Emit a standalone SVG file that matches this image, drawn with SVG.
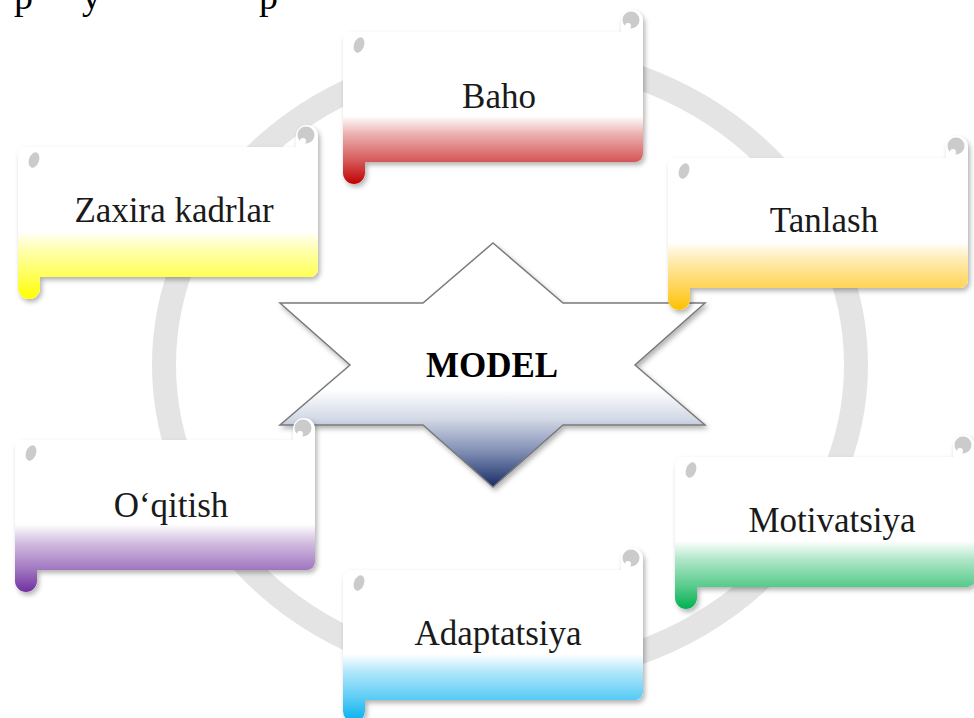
<svg xmlns="http://www.w3.org/2000/svg" width="974" height="718" viewBox="0 0 974 718">
  <style>
    .lbl { font-family: "Liberation Serif", "Times New Roman", serif; font-size: 35px; fill: #1a1a1a; text-anchor: middle; }
    .title { font-family: "Liberation Serif", "Times New Roman", serif; font-size: 35px; font-weight: bold; fill: #000; text-anchor: middle; }
    .top { font-family: "Liberation Serif", "Times New Roman", serif; font-size: 38px; fill: #000; }
    .paper { fill: #ffffff; filter: url(#shadow); }
    .curl { fill: #cbcbcb; }
    .ring { fill: none; stroke: #e4e4e4; stroke-width: 24; }
  </style>
  <defs>
    <filter id="shadow" x="-10%" y="-10%" width="125%" height="130%">
      <feDropShadow dx="2" dy="3" stdDeviation="2.5" flood-color="#000" flood-opacity="0.3"/>
    </filter>
    <!-- horizontal scroll: body 300x130, roll above top-right, tab below bottom-left -->
    <path id="scroll" d="M0,8 A8,8 0 0 1 8,0 L278,0 L278,-11 A11,11 0 0 1 300,-11 L300,122 A8,8 0 0 1 292,130 L22,130 L22,141 A11,11 0 0 1 0,141 Z"/>
    <g id="ornament">
      <circle class="curl" cx="288" cy="-12" r="8.5"/>
      <circle cx="285" cy="-6" r="3" fill="#fff"/>
      <ellipse class="curl" cx="16" cy="13" rx="5" ry="8" transform="rotate(20 16 13)"/>
    </g>
    <linearGradient id="gRed" x1="0" y1="0" x2="0" y2="1">
      <stop offset="0" stop-color="#c00000" stop-opacity="0"/>
      <stop offset="0.61" stop-color="#c00000" stop-opacity="0"/>
      <stop offset="0.71" stop-color="#c00000" stop-opacity="0.3"/>
      <stop offset="0.87" stop-color="#c00000" stop-opacity="0.66"/>
      <stop offset="1" stop-color="#c00000" stop-opacity="1"/>
    </linearGradient>
    <linearGradient id="gYellow" x1="0" y1="0" x2="0" y2="1">
      <stop offset="0" stop-color="#ffff00" stop-opacity="0"/>
      <stop offset="0.61" stop-color="#ffff00" stop-opacity="0"/>
      <stop offset="0.71" stop-color="#ffff00" stop-opacity="0.3"/>
      <stop offset="0.87" stop-color="#ffff00" stop-opacity="0.66"/>
      <stop offset="1" stop-color="#ffff00" stop-opacity="1"/>
    </linearGradient>
    <linearGradient id="gOrange" x1="0" y1="0" x2="0" y2="1">
      <stop offset="0" stop-color="#ffc000" stop-opacity="0"/>
      <stop offset="0.61" stop-color="#ffc000" stop-opacity="0"/>
      <stop offset="0.71" stop-color="#ffc000" stop-opacity="0.3"/>
      <stop offset="0.87" stop-color="#ffc000" stop-opacity="0.66"/>
      <stop offset="1" stop-color="#ffc000" stop-opacity="1"/>
    </linearGradient>
    <linearGradient id="gGreen" x1="0" y1="0" x2="0" y2="1">
      <stop offset="0" stop-color="#00b050" stop-opacity="0"/>
      <stop offset="0.61" stop-color="#00b050" stop-opacity="0"/>
      <stop offset="0.71" stop-color="#00b050" stop-opacity="0.3"/>
      <stop offset="0.87" stop-color="#00b050" stop-opacity="0.66"/>
      <stop offset="1" stop-color="#00b050" stop-opacity="1"/>
    </linearGradient>
    <linearGradient id="gBlue" x1="0" y1="0" x2="0" y2="1">
      <stop offset="0" stop-color="#00b0f0" stop-opacity="0"/>
      <stop offset="0.61" stop-color="#00b0f0" stop-opacity="0"/>
      <stop offset="0.71" stop-color="#00b0f0" stop-opacity="0.3"/>
      <stop offset="0.87" stop-color="#00b0f0" stop-opacity="0.66"/>
      <stop offset="1" stop-color="#00b0f0" stop-opacity="1"/>
    </linearGradient>
    <linearGradient id="gPurple" x1="0" y1="0" x2="0" y2="1">
      <stop offset="0" stop-color="#7030a0" stop-opacity="0"/>
      <stop offset="0.61" stop-color="#7030a0" stop-opacity="0"/>
      <stop offset="0.71" stop-color="#7030a0" stop-opacity="0.3"/>
      <stop offset="0.87" stop-color="#7030a0" stop-opacity="0.66"/>
      <stop offset="1" stop-color="#7030a0" stop-opacity="1"/>
    </linearGradient>
    <linearGradient id="gStar" gradientUnits="userSpaceOnUse" x1="0" y1="243" x2="0" y2="487">
      <stop offset="0" stop-color="#ffffff"/>
      <stop offset="0.6" stop-color="#ffffff"/>
      <stop offset="0.72" stop-color="#d3d9e6"/>
      <stop offset="0.86" stop-color="#7d8bb2"/>
      <stop offset="1" stop-color="#172c66"/>
    </linearGradient>
  </defs>

  <rect width="974" height="718" fill="#ffffff"/>

  <!-- descenders of the text line running above the frame -->
  <g id="top-line" class="top">
    <text x="14" y="9">p</text>
    <text x="82" y="9">y</text>
    <text x="259" y="9">p</text>
  </g>

  <!-- background cycle ring -->
  <g id="connectors">
    <ellipse class="ring" cx="510" cy="365" rx="346" ry="310"/>
  </g>

  <!-- central star -->
  <g id="model">
    <path d="M493,243 L563,303 L705,303 L635,365 L705,425 L563,425 L493,487 L423,425 L280,425 L350,365 L280,303 L423,303 Z" fill="url(#gStar)" stroke="#7a7a7a" stroke-width="1.5" filter="url(#shadow)"/>
    <text class="title" x="492" y="377">MODEL</text>
  </g>

  <g id="baho" transform="translate(343,32)">
    <use href="#scroll" class="paper"/>
    <use href="#scroll" fill="url(#gRed)"/>
    <use href="#ornament"/>
    <text class="lbl" x="156" y="76">Baho</text>
  </g>

  <g id="zaxira-kadrlar" transform="translate(18,147)">
    <use href="#scroll" class="paper"/>
    <use href="#scroll" fill="url(#gYellow)"/>
    <use href="#ornament"/>
    <text class="lbl" x="156" y="75">Zaxira kadrlar</text>
  </g>

  <g id="tanlash" transform="translate(668,158)">
    <use href="#scroll" class="paper"/>
    <use href="#scroll" fill="url(#gOrange)"/>
    <use href="#ornament"/>
    <text class="lbl" x="156" y="74">Tanlash</text>
  </g>

  <g id="motivatsiya" transform="translate(675,457)">
    <use href="#scroll" class="paper"/>
    <use href="#scroll" fill="url(#gGreen)"/>
    <use href="#ornament"/>
    <text class="lbl" x="157" y="75">Motivatsiya</text>
  </g>

  <g id="adaptatsiya" transform="translate(343,570)">
    <use href="#scroll" class="paper"/>
    <use href="#scroll" fill="url(#gBlue)"/>
    <use href="#ornament"/>
    <text class="lbl" x="155" y="75">Adaptatsiya</text>
  </g>

  <g id="oqitish" transform="translate(15,440)">
    <use href="#scroll" class="paper"/>
    <use href="#scroll" fill="url(#gPurple)"/>
    <use href="#ornament"/>
    <text class="lbl" x="156" y="77">O&#8216;qitish</text>
  </g>
</svg>
